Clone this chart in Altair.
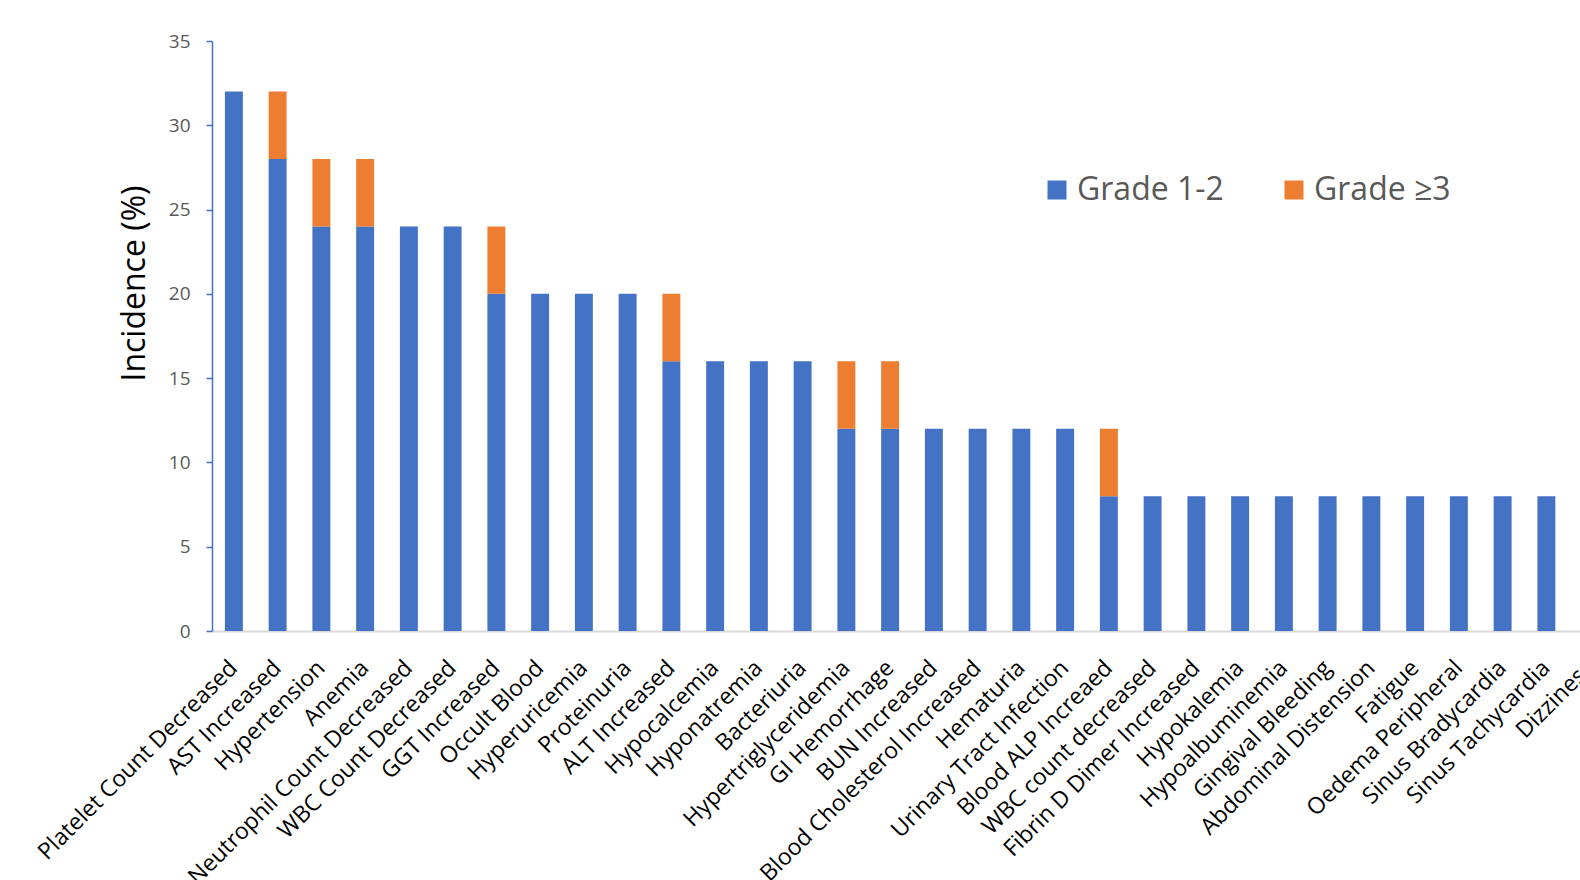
import altair as alt
import pandas as pd

# Adverse events, ordered by total incidence
events = [
    "Platelet Count Decreased", "AST Increased", "Hypertension", "Anemia",
    "Neutrophil Count Decreased", "WBC Count Decreased", "GGT Increased",
    "Occult Blood", "Hyperuricemia", "Proteinuria", "ALT Increased",
    "Hypocalcemia", "Hyponatremia", "Bacteriuria", "Hypertriglyceridemia",
    "GI Hemorrhage", "BUN Increased", "Blood Cholesterol Increased",
    "Hematuria", "Urinary Tract Infection", "Blood ALP Increaed",
    "WBC count decreased", "Fibrin D Dimer Increased", "Hypokalemia",
    "Hypoalbuminemia", "Gingival Bleeding", "Abdominal Distension",
    "Fatigue", "Oedema Peripheral", "Sinus Bradycardia",
    "Sinus Tachycardia", "Dizziness",
]

# Incidence (%) by severity
grade_1_2 = [32, 28, 24, 24, 24, 24, 20, 20, 20, 20, 16, 16, 16, 16, 12, 12,
             12, 12, 12, 12, 8, 8, 8, 8, 8, 8, 8, 8, 8, 8, 8, 8]
grade_3_plus = [0, 4, 4, 4, 0, 0, 4, 0, 0, 0, 4, 0, 0, 0, 4, 4,
                0, 0, 0, 0, 4, 0, 0, 0, 0, 0, 0, 0, 0, 0, 0, 0]

series = ["Grade 1-2", "Grade \u22653"]
colors = ["#4472C4", "#ED7D31"]
y_ticks = [0, 5, 10, 15, 20, 25, 30, 35]

rows = []
for name, low, high in zip(events, grade_1_2, grade_3_plus):
    rows.append({"event": name, "grade": series[0], "order": 0, "value": low})
    rows.append({"event": name, "grade": series[1], "order": 1, "value": high})
df = pd.DataFrame(rows)

font = "Open Sans"

chart = (
    alt.Chart(df)
    .mark_bar()
    .encode(
        x=alt.X(
            "event:N",
            sort=events,
            scale=alt.Scale(range=[0, 1400], paddingInner=0.59, paddingOuter=0.295),
            axis=alt.Axis(
                title=None,
                labelAngle=-45,
                labelAlign="right",
                labelBaseline="middle",
                labelPadding=33,
                labelFont=font,
                labelFontSize=23,
                labelColor="#000000",
                labelOverlap=False,
                labelLimit=500,
                ticks=False,
                domainColor="#D9D9D9",
                domainWidth=2,
                grid=False,
            ),
        ),
        y=alt.Y(
            "value:Q",
            stack="zero",
            scale=alt.Scale(domain=[0, 35], nice=False),
            axis=alt.Axis(
                title="Incidence (%)",
                values=y_ticks,
                grid=False,
                labelFont=font,
                labelFontSize=19,
                labelColor="#595959",
                labelPadding=16,
                tickSize=6,
                tickColor="#4472C4",
                tickWidth=1.5,
                domainColor="#4472C4",
                domainWidth=1.5,
                titleFont=font,
                titleFontSize=32,
                titleFontWeight="normal",
                titleColor="#000000",
                titleAngle=270,
                titleAlign="center",
                titleBaseline="middle",
                titleX=-78,
                titleY=242,
            ),
        ),
        color=alt.Color(
            "grade:N",
            scale=alt.Scale(domain=series, range=colors),
            legend=alt.Legend(
                title=None,
                orient="none",
                direction="horizontal",
                legendX=829,
                legendY=133,
                symbolType="square",
                symbolSize=361,
                symbolStrokeWidth=0,
                labelFont=font,
                labelFontSize=32,
                labelColor="#595959",
                labelOffset=4,
                columnPadding=54,
                padding=0,
            ),
        ),
        order=alt.Order("order:Q"),
    )
    .properties(
        width=1368,
        height=590,
        autosize=alt.AutoSizeParams(type="none"),
        padding={"left": 212, "top": 41, "right": 0, "bottom": 249},
        background="#FFFFFF",
    )
    .configure_view(stroke=None)
)

chart.save("out.html", embed_options={"renderer": "svg", "actions": False})
